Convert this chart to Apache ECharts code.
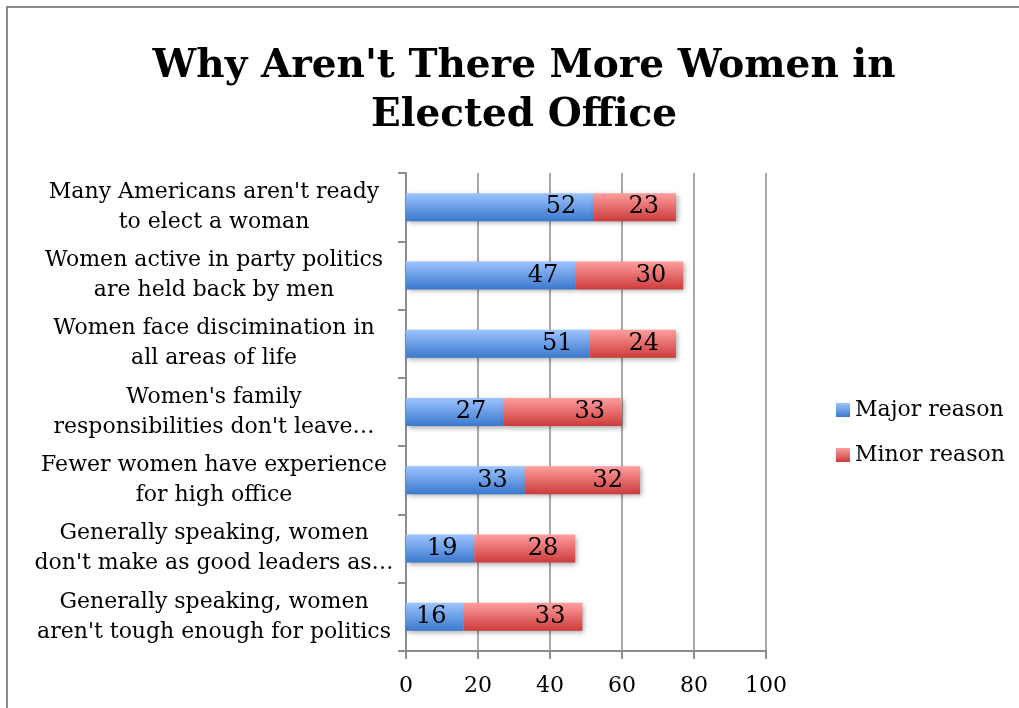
<!DOCTYPE html>
<html><head><meta charset="utf-8">
<script src="https://cdn.jsdelivr.net/npm/echarts@6/dist/echarts.min.js"></script>
<style>html,body{margin:0;padding:0;background:#fff}#c{width:1019px;height:708px}</style>
</head><body><div id="c"></div>
<script>
const categories = [
  "Many Americans aren't ready\nto elect a woman",
  "Women active in party politics\nare held back by men",
  "Women face discimination in\nall areas of life",
  "Women's family\nresponsibilities don't leave…",
  "Fewer women have experience\nfor high office",
  "Generally speaking, women\ndon't make as good leaders as…",
  "Generally speaking, women\naren't tough enough for politics"
];
const majorReason = [52, 47, 51, 27, 33, 19, 16];
const minorReason = [23, 30, 24, 33, 32, 28, 33];
const xTicks = [0, 20, 40, 60, 80, 100];

const FONT = "DejaVu Serif";
const chart = echarts.init(document.getElementById('c'));
const grad = (a, b) => new echarts.graphic.LinearGradient(0, 0, 0, 1, [{offset: 0, color: a}, {offset: 1, color: b}]);
const blue = grad('#9dc4ff', '#3a78cc');
const red = grad('#ff9e9e', '#cc3b3b');
const shadow = {shadowColor: 'rgba(0,0,0,0.35)', shadowBlur: 5, shadowOffsetX: 2, shadowOffsetY: 2};
const lbl = {show: true, position: 'insideRight', distance: 17, color: '#000', fontFamily: FONT, fontSize: 24};

chart.setOption({
  animation: false,
  graphic: [{type: 'rect', shape: {x: 7, y: 7, width: 1100, height: 800}, style: {fill: 'none', stroke: '#8c8c8c', lineWidth: 2}, z: -1}],
  title: {
    text: "Why Aren't There More Women in\nElected Office",
    left: 519, top: 37, textAlign: 'center',
    textStyle: {fontFamily: FONT, fontWeight: 'bold', fontSize: 39, lineHeight: 49, color: '#000'}
  },
  legend: {
    orient: 'vertical', left: 831, top: 394, itemWidth: 14, itemHeight: 14, itemGap: 23, icon: 'rect',
    textStyle: {fontFamily: FONT, fontSize: 22, color: '#000'},
    data: ['Major reason', 'Minor reason']
  },
  grid: {left: 406, top: 173, width: 360, height: 478, containLabel: false},
  xAxis: {
    type: 'value', min: 0, max: 100, interval: 20,
    axisLine: {show: true, lineStyle: {color: '#8c8c8c', width: 2}},
    axisTick: {show: true, length: 8, lineStyle: {color: '#8c8c8c', width: 2}},
    splitLine: {show: true, lineStyle: {color: '#8c8c8c', width: 1.5}},
    axisLabel: {fontFamily: FONT, fontSize: 22, color: '#000', margin: 24,
      formatter: v => xTicks.includes(v) ? String(v) : ''}
  },
  yAxis: {
    type: 'category', inverse: true, data: categories,
    axisLine: {show: true, lineStyle: {color: '#8c8c8c', width: 2}},
    axisTick: {show: true, length: 8, lineStyle: {color: '#8c8c8c', width: 2}},
    axisLabel: {fontFamily: FONT, fontSize: 22, lineHeight: 30, color: '#000', align: 'center', margin: 192, padding: [4, 0, 0, 0]}
  },
  series: [
    {name: 'Major reason', type: 'bar', stack: 's', barWidth: 28, data: majorReason,
     itemStyle: Object.assign({color: blue}, shadow), label: lbl},
    {name: 'Minor reason', type: 'bar', stack: 's', barWidth: 28, data: minorReason,
     itemStyle: Object.assign({color: red}, shadow), label: lbl}
  ]
});
</script></body></html>
